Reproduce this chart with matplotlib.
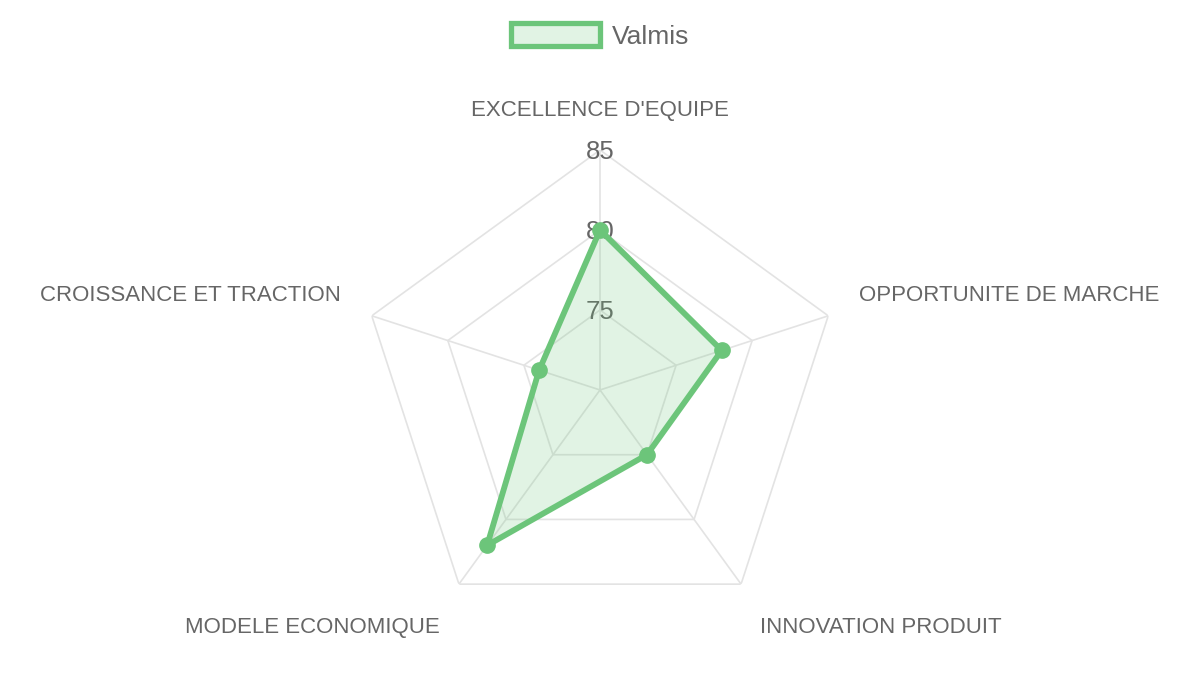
import numpy as np
import matplotlib
matplotlib.use('Agg')
from matplotlib import pyplot as plt
from matplotlib.patches import Patch
from matplotlib.transforms import offset_copy

plt.rcParams['font.family'] = ['Liberation Sans', 'DejaVu Sans']

categories = ['EXCELLENCE D\'EQUIPE', 'OPPORTUNITE DE MARCHE', 'INNOVATION PRODUIT',
              'MODELE ECONOMIQUE', 'CROISSANCE ET TRACTION']
valmis = [80, 78, 75, 82, 74]
ticks = [75, 80, 85]
rmin, rmax = 70, 85

green = '#6cc57a'
grey_txt = '#666666'
grid_col = '#e3e3e3'

n = len(categories)
angles = np.linspace(0, 2 * np.pi, n, endpoint=False)
closed = np.append(angles, angles[0])

fig = plt.figure(figsize=(12, 6.75), dpi=100)
ax = fig.add_axes([0.3, 0.0667, 0.4, 0.7111], projection='polar')
ax.set_theta_offset(np.pi / 2)
ax.set_theta_direction(-1)
ax.set_ylim(rmin, rmax)
ax.grid(False)
ax.spines['polar'].set_visible(False)
ax.set_xticks([])
ax.set_yticks([])
ax.patch.set_alpha(0)

# polygon rings + spokes
for r in [rmin + 5 * i for i in range(1, 4)]:
    ax.plot(closed, [r] * (n + 1), color=grid_col, lw=1.2, zorder=1)
for a in angles:
    ax.plot([a, a], [rmin, rmax], color=grid_col, lw=1.2, zorder=1)

# tick labels on the top spoke
tick_tr = offset_copy(ax.transData, fig=fig, x=0, y=-1.5, units='points')
for t in ticks:
    ax.text(0, t, str(t), ha='center', va='center', fontsize=18.5, color=grey_txt,
            zorder=2, transform=tick_tr)

# data
vals = np.append(valmis, valmis[0])
ax.fill(closed, vals, color=green, alpha=0.2, zorder=3, lw=0)
ax.plot(closed, vals, color=green, lw=4.2, zorder=4, solid_joinstyle='miter')
ax.plot(angles, valmis, 'o', color=green, ms=11, zorder=5)

# category labels
r_lab = 87.0
align = [('center', 'bottom', -2), ('left', 'bottom', 0), ('left', 'top', -5),
         ('right', 'top', -5), ('right', 'bottom', 0)]
for a, lab, (ha, va, dy) in zip(angles, categories, align):
    tr = offset_copy(ax.transData, fig=fig, x=0, y=dy, units='points')
    ax.text(a, r_lab, lab, ha=ha, va=va, fontsize=16, color=grey_txt, clip_on=False,
            transform=tr)

handle = Patch(facecolor=(108/255, 197/255, 122/255, 0.2), edgecolor=green, linewidth=3.8)
fig.legend([handle], ['Valmis'], loc='center', bbox_to_anchor=(0.5, 0.947), frameon=False,
           fontsize=19, handlelength=3.4, handleheight=1.0, handletextpad=0.45,
           labelcolor=grey_txt)

fig.savefig('out.png', dpi=100, facecolor='white')
